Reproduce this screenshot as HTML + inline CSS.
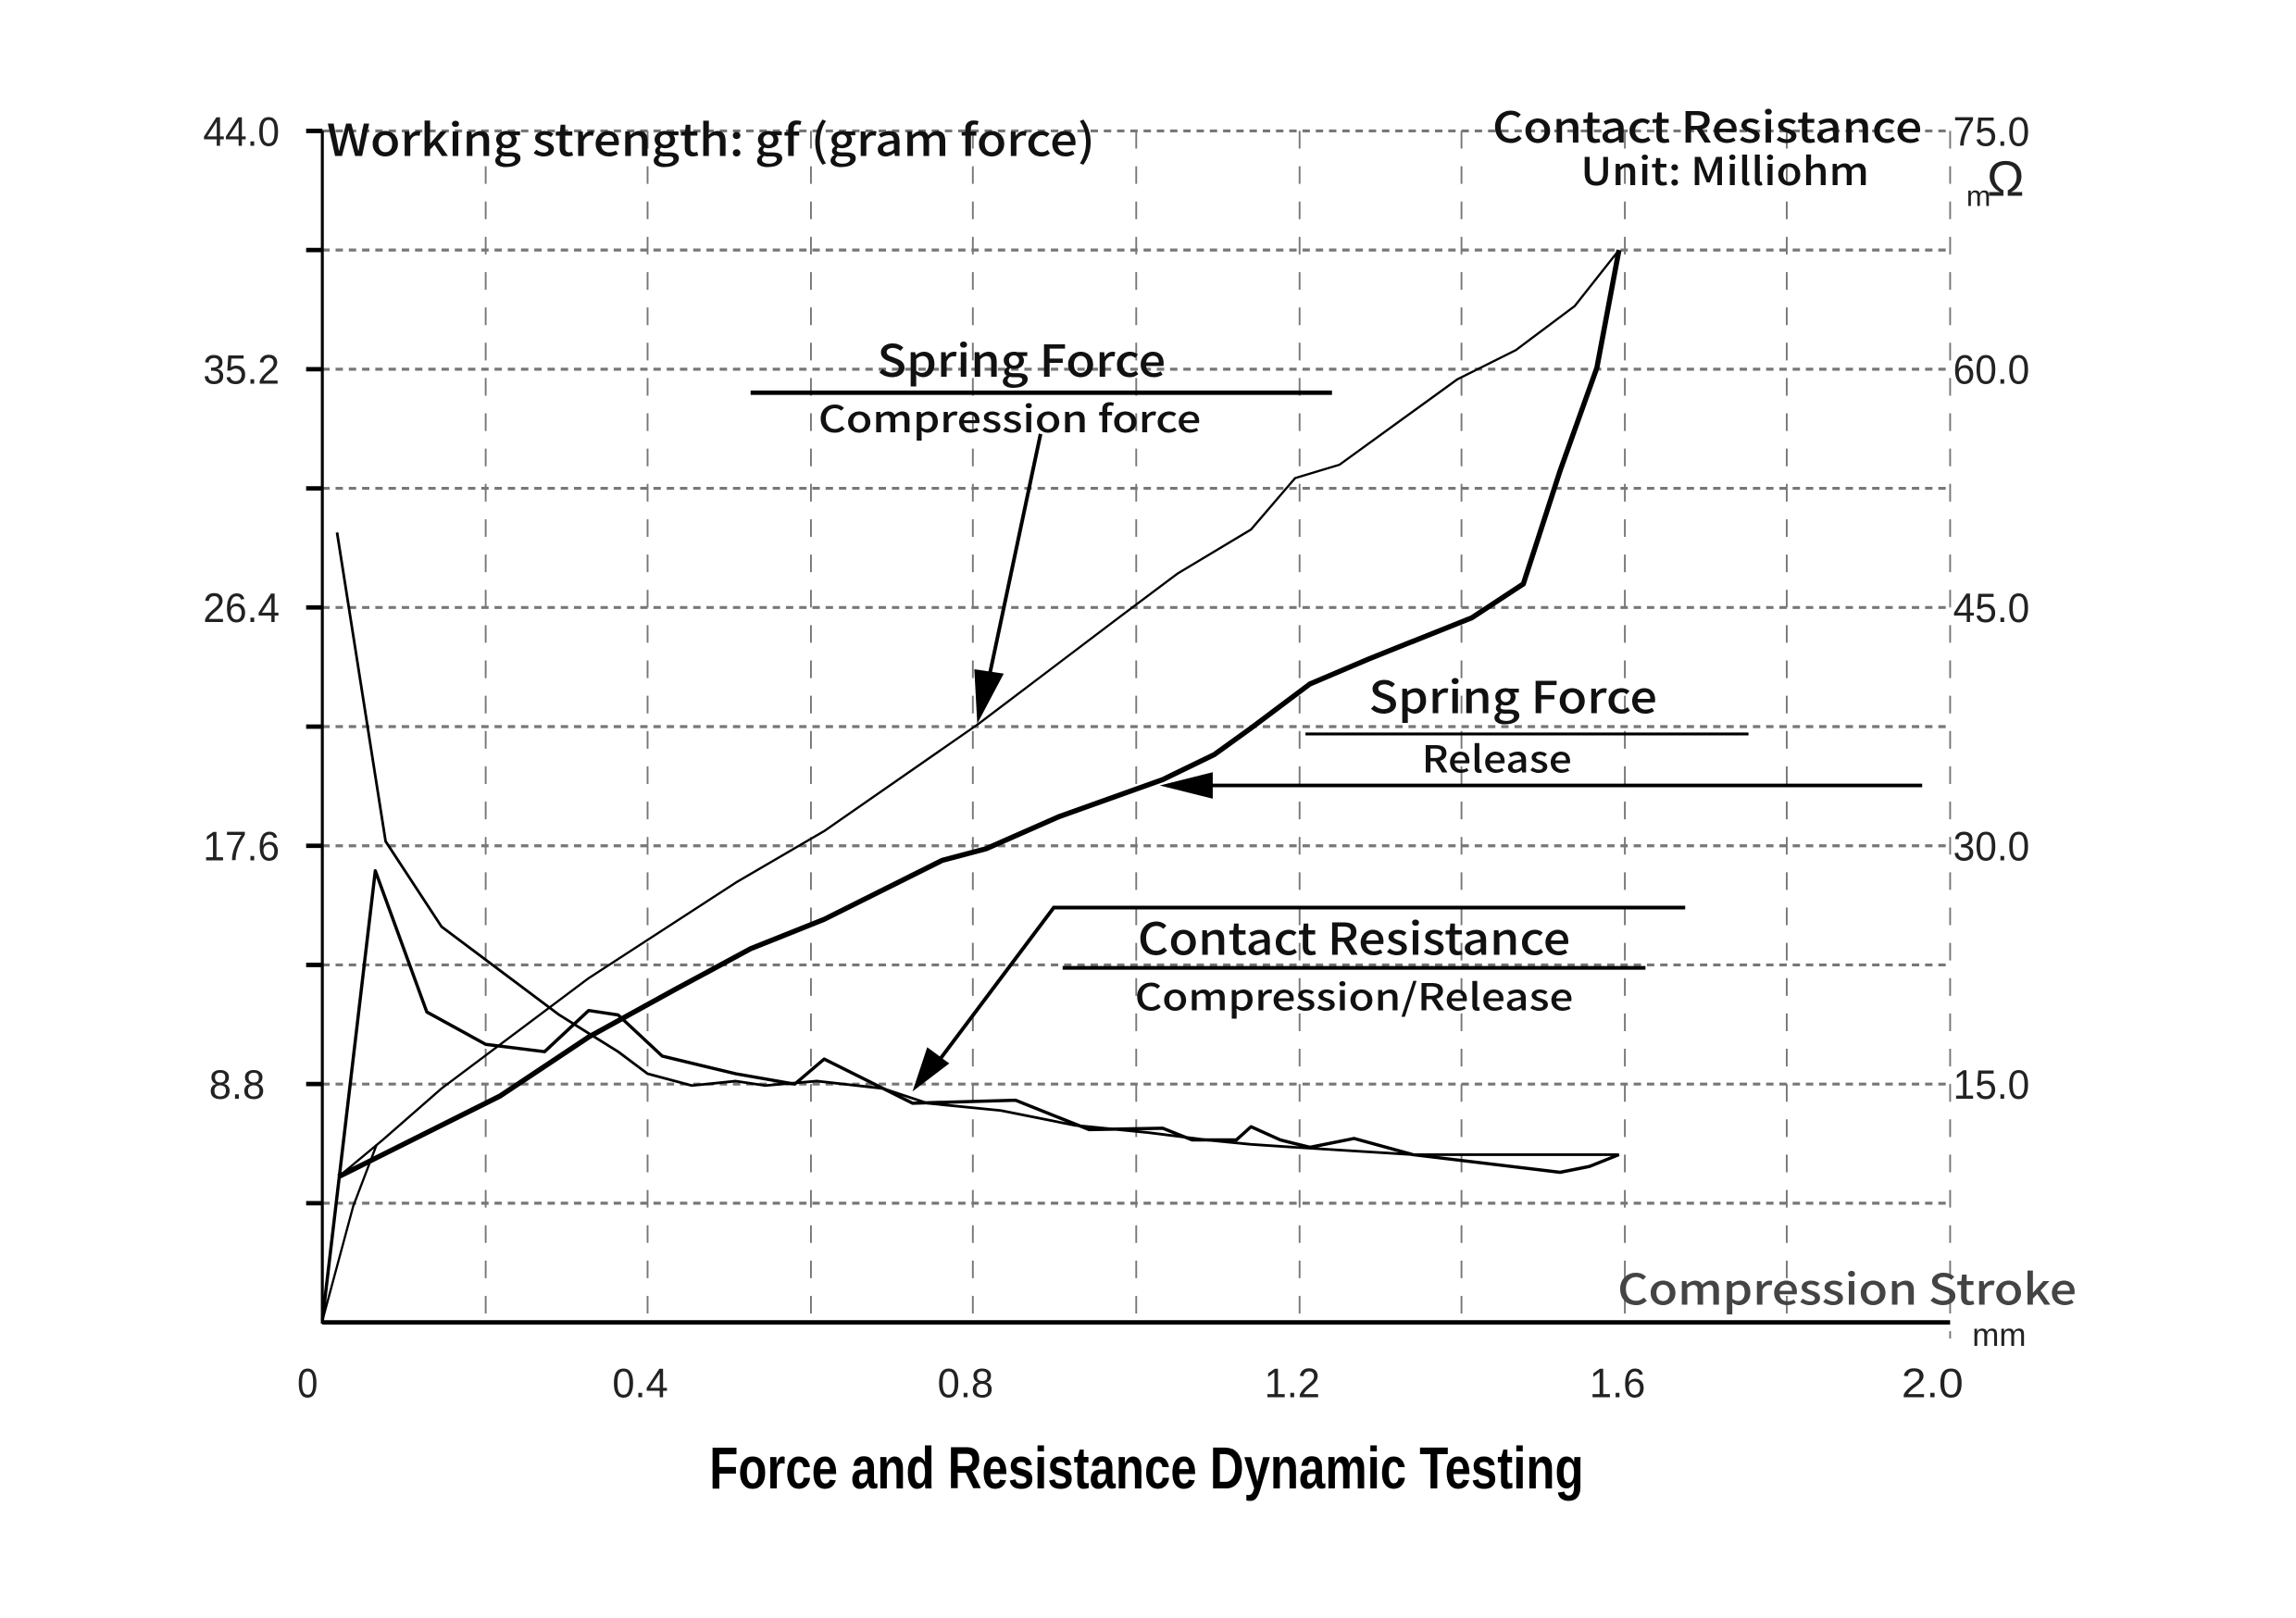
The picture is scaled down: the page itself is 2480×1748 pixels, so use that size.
<!DOCTYPE html>
<html><head><meta charset="utf-8"><style>
html,body{margin:0;padding:0;background:#fff;}
svg{display:block;}
</style></head><body>
<svg width="2480" height="1748" viewBox="0 0 1560 1100" preserveAspectRatio="none" xmlns="http://www.w3.org/2000/svg">
<rect width="1560" height="1100" fill="#fff"/>
<g stroke="#777" stroke-width="2" stroke-dasharray="5,4">
<line x1="219" y1="89" x2="1325" y2="89"/>
<line x1="219" y1="170" x2="1325" y2="170"/>
<line x1="219" y1="251" x2="1325" y2="251"/>
<line x1="219" y1="332" x2="1325" y2="332"/>
<line x1="219" y1="413" x2="1325" y2="413"/>
<line x1="219" y1="494" x2="1325" y2="494"/>
<line x1="219" y1="575" x2="1325" y2="575"/>
<line x1="219" y1="656" x2="1325" y2="656"/>
<line x1="219" y1="737" x2="1325" y2="737"/>
<line x1="219" y1="818" x2="1325" y2="818"/>
</g>
<g stroke="#777" stroke-width="1.2" stroke-dasharray="12,12">
<line x1="330" y1="89" x2="330" y2="898"/>
<line x1="440" y1="89" x2="440" y2="898"/>
<line x1="551" y1="89" x2="551" y2="898"/>
<line x1="661" y1="89" x2="661" y2="898"/>
<line x1="772" y1="89" x2="772" y2="898"/>
<line x1="883" y1="89" x2="883" y2="898"/>
<line x1="993" y1="89" x2="993" y2="898"/>
<line x1="1104" y1="89" x2="1104" y2="898"/>
<line x1="1214" y1="89" x2="1214" y2="898"/>
<line x1="1325" y1="89" x2="1325" y2="910"/>
</g>
<line x1="219" y1="89" x2="219" y2="900" stroke="#000" stroke-width="2"/>
<line x1="219" y1="899" x2="1325" y2="899" stroke="#000" stroke-width="3"/>
<g stroke="#000" stroke-width="3">
<line x1="208" y1="89" x2="219" y2="89"/><line x1="208" y1="170" x2="219" y2="170"/>
<line x1="208" y1="251" x2="219" y2="251"/><line x1="208" y1="332" x2="219" y2="332"/>
<line x1="208" y1="413" x2="219" y2="413"/><line x1="208" y1="494" x2="219" y2="494"/>
<line x1="208" y1="575" x2="219" y2="575"/><line x1="208" y1="656" x2="219" y2="656"/>
<line x1="208" y1="737" x2="219" y2="737"/><line x1="208" y1="818" x2="219" y2="818"/>
</g>
<g font-family="Liberation Sans Narrow, Liberation Sans, sans-serif" font-size="28" fill="#222">
<text x="138" y="99" textLength="52" lengthAdjust="spacingAndGlyphs">44.0</text>
<text x="138" y="261" textLength="52" lengthAdjust="spacingAndGlyphs">35.2</text>
<text x="138" y="423" textLength="52" lengthAdjust="spacingAndGlyphs">26.4</text>
<text x="138" y="585" textLength="52" lengthAdjust="spacingAndGlyphs">17.6</text>
<text x="142" y="747" textLength="38" lengthAdjust="spacingAndGlyphs">8.8</text>
<text x="1327" y="99" textLength="52" lengthAdjust="spacingAndGlyphs">75.0</text>
<text x="1327" y="261" textLength="52" lengthAdjust="spacingAndGlyphs">60.0</text>
<text x="1327" y="423" textLength="52" lengthAdjust="spacingAndGlyphs">45.0</text>
<text x="1327" y="585" textLength="52" lengthAdjust="spacingAndGlyphs">30.0</text>
<text x="1327" y="747" textLength="52" lengthAdjust="spacingAndGlyphs">15.0</text>
<text x="202" y="950" textLength="14" lengthAdjust="spacingAndGlyphs">0</text>
<text x="416" y="950" textLength="38" lengthAdjust="spacingAndGlyphs">0.4</text>
<text x="637" y="950" textLength="38" lengthAdjust="spacingAndGlyphs">0.8</text>
<text x="859" y="950" textLength="38" lengthAdjust="spacingAndGlyphs">1.2</text>
<text x="1080" y="950" textLength="38" lengthAdjust="spacingAndGlyphs">1.6</text>
<text x="1292" y="950" textLength="42" lengthAdjust="spacingAndGlyphs">2.0</text>
<text x="1340" y="915" font-size="22">mm</text>
<text x="1336" y="140" font-size="20">m</text>
<text x="1350" y="133" font-size="34">Ω</text>
</g>
<g fill="none" stroke="#000" stroke-linejoin="round">
<polyline stroke-width="1.5" points="230,800 260,775 300,740 400,665 500,600 560,565 665,492 760,420 800,390 850,360 880,325 910,316 990,258 1030,238 1070,208 1100,170"/>
<polyline stroke-width="3.5" points="230,800 260,785 340,745 400,705 460,672 510,645 560,625 640,585 670,577 720,555 790,530 825,513 850,495 890,465 930,448 1000,420 1035,397 1060,320 1085,250 1100,170"/>
<polyline stroke-width="1.8" points="229,362 262,572 300,630 340,660 380,690 420,715 440,730 470,738 500,735 520,738 555,735 600,740 630,750 680,755 730,765 780,770 820,775 850,778 880,780 960,785 1100,785"/>
<polyline stroke-width="2.2" points="219,898 255,592 290,688 330,710 370,715 400,687 420,690 450,718 500,730 540,737 560,720 590,735 620,750 690,748 740,768 790,767 810,775 840,775 850,766 870,775 890,780 920,774 960,785 1060,797 1080,793 1100,785"/>
<polyline stroke-width="1.5" points="219,898 240,820 256,778"/>
</g>
<g stroke="#000" fill="none">
<line x1="510" y1="267" x2="905" y2="267" stroke-width="3"/>
<line x1="707" y1="295" x2="670" y2="470" stroke-width="2.5"/>
<line x1="887" y1="499" x2="1188" y2="499" stroke-width="2"/>
<line x1="1306" y1="534" x2="810" y2="534" stroke-width="2.5"/>
<polyline points="1145,617 716,617 635,725" stroke-width="2.5"/>
<line x1="722" y1="658" x2="1118" y2="658" stroke-width="2.5"/>
</g>
<g fill="#000">
<polygon points="664,492 662,455 682,458"/>
<polygon points="788,534 824,525 824,543"/>
<polygon points="620,742 630,712 645,723"/>
</g>
<g font-family="'Noto Sans CJK SC', 'Liberation Sans', sans-serif" font-weight="500" fill="#111" text-anchor="middle">
<text x="222" y="106" font-size="30" text-anchor="start" textLength="522" lengthAdjust="spacingAndGlyphs">Working strength: gf (gram force)</text>
<text x="1160" y="97" font-size="29" textLength="292" lengthAdjust="spacingAndGlyphs">Contact Resistance</text>
<text x="1172" y="126" font-size="26" textLength="196" lengthAdjust="spacingAndGlyphs">Unit: Milliohm</text>
<text x="694" y="256" font-size="30" textLength="196" lengthAdjust="spacingAndGlyphs">Spring Force</text>
<text x="686" y="294" font-size="25" textLength="260" lengthAdjust="spacingAndGlyphs">Compression force</text>
<text x="1028" y="485" font-size="30" textLength="196" lengthAdjust="spacingAndGlyphs">Spring Force</text>
<text x="1017" y="525" font-size="25" textLength="102" lengthAdjust="spacingAndGlyphs">Release</text>
<text x="920" y="649" font-size="30" textLength="294" lengthAdjust="spacingAndGlyphs">Contact Resistance</text>
<text x="920" y="687" font-size="25" textLength="298" lengthAdjust="spacingAndGlyphs">Compression/Release</text>
<text x="1255" y="887" font-size="29" fill="#444" textLength="312" lengthAdjust="spacingAndGlyphs">Compression Stroke</text>
</g>
<text x="779" y="1012" font-family="'Liberation Sans Narrow','Liberation Sans',sans-serif" text-anchor="middle" font-size="40" font-weight="bold" textLength="594" lengthAdjust="spacingAndGlyphs">Force and Resistance Dynamic Testing</text>
</svg>
</body></html>
